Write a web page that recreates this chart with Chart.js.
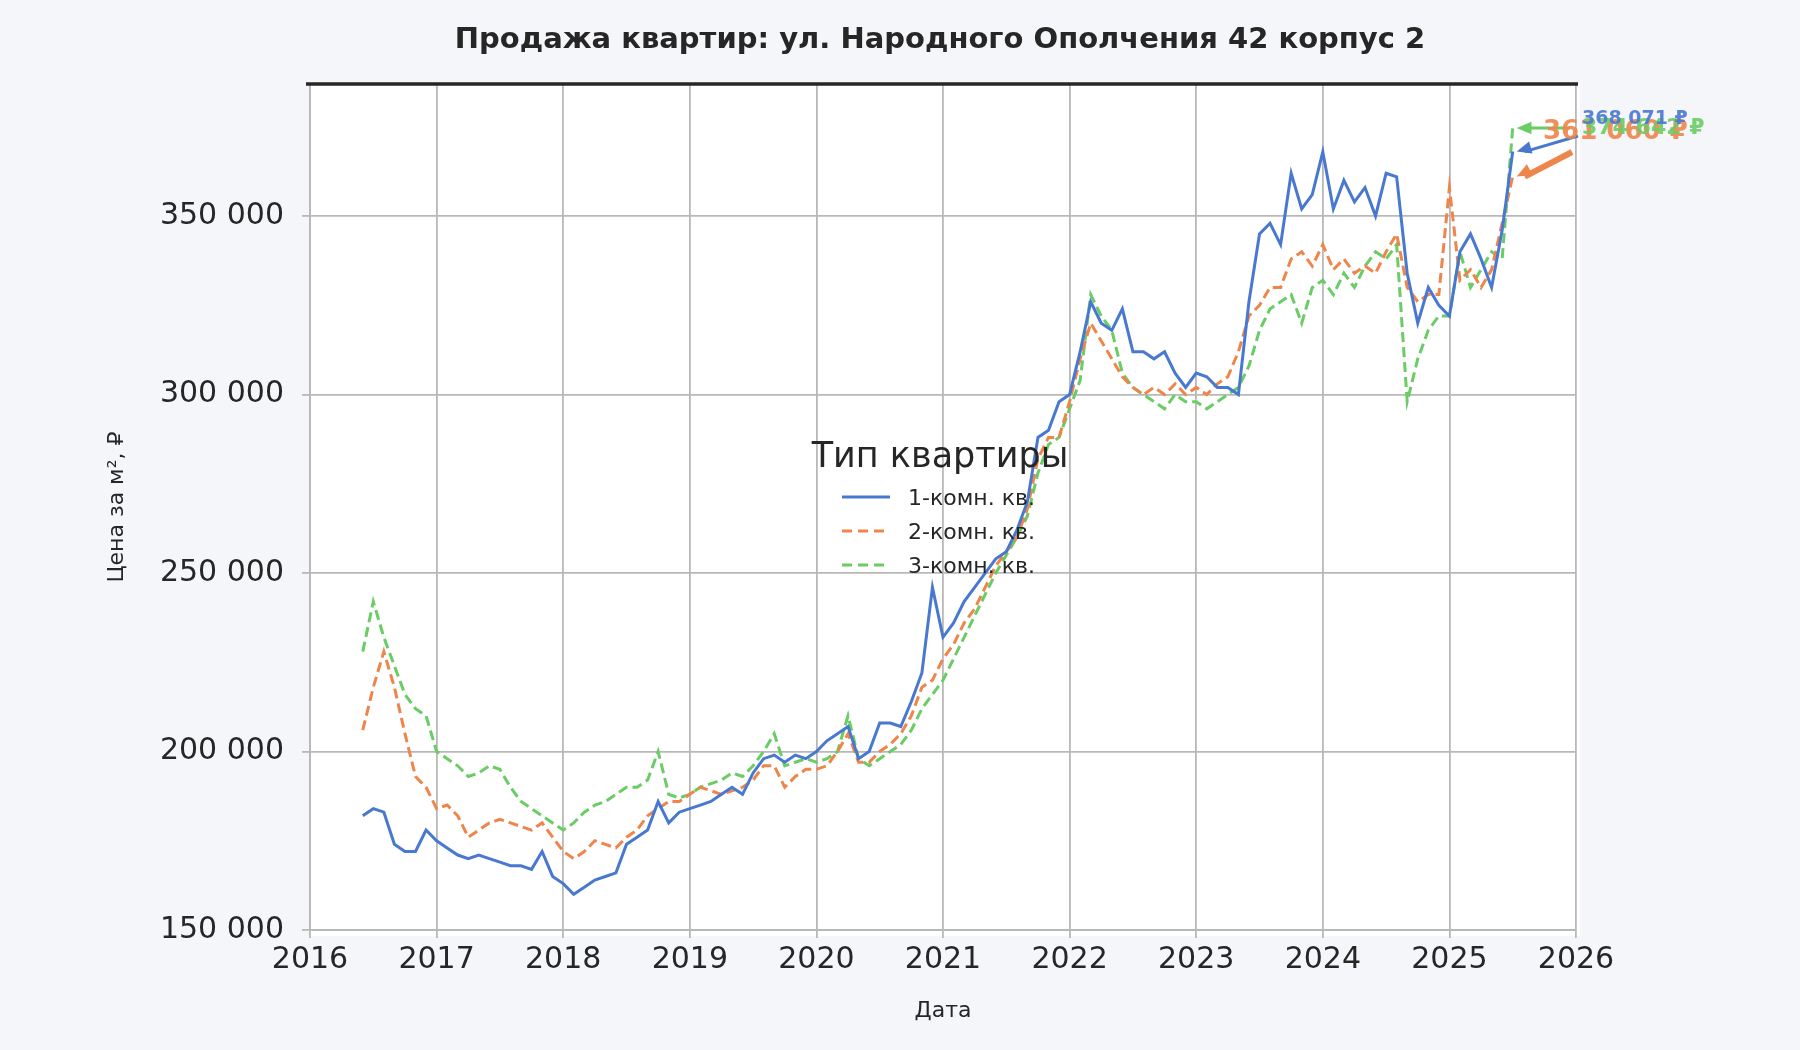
<!DOCTYPE html>
<html><head><meta charset="utf-8">
<script src="https://cdn.jsdelivr.net/npm/chart.js@4"></script>
<style>html,body{margin:0;background:#f5f6fa}#w{width:1800px;height:1050px}</style>
</head><body><div id="w"><canvas id="c"></canvas></div>
<script>
const startYear = 2016, startMonth = 6; // monthly points from June 2016
const seriesNames = ['1-комн. кв.', '2-комн. кв.', '3-комн. кв.'];
const room1 = [182,184,183,174,172,172,178,
175,173,171,170,171,170,169,168,168,167,172,165,
163,160,162,164,165,166,174,176,178,186,180,183,
184,185,186,188,190,188,194,198,199,197,199,198,
200,203,205,207,198,200,208,208,207,214,222,246,
232,236,242,246,250,254,256,262,270,288,290,298,
300,312,326,320,318,324,312,312,310,312,306,302,
306,305,302,302,300,326,345,348,342,362,352,356,
368,352,360,354,358,350,362,361,334,320,330,325,
322,340,345,338,330,346,368.071];
const room2 = [206,218,228,218,205,193,190,
184,185,182,176,178,180,181,180,179,178,180,176,
172,170,172,175,174,173,176,178,182,184,186,186,
188,190,189,188,189,190,192,196,196,190,193,195,
195,196,200,205,197,197,200,202,205,210,218,220,
226,230,236,240,246,252,256,260,268,282,288,288,
298,310,320,315,310,305,302,300,302,300,303,300,
302,300,303,305,312,322,325,330,330,338,340,336,
342,335,338,334,336,334,340,345,330,326,328,328,
358,332,335,330,335,348,361.060];
const room3 = [228,242,232,224,216,212,210,
200,198,196,193,194,196,195,190,186,184,182,180,
178,180,183,185,186,188,190,190,192,200,188,187,
188,190,191,192,194,193,196,200,205,196,197,198,
197,198,200,210,198,196,198,200,202,206,212,216,
220,226,232,238,244,250,255,260,266,278,286,288,
296,304,328,322,318,306,302,300,298,296,300,298,
298,296,298,300,302,308,318,324,326,328,320,330,
332,328,334,330,336,340,338,342,298,310,318,322,
322,340,330,335,340,338,374.642];
const lastLabels = ['368 071 ₽','361 060 ₽','374 642 ₽'];
const yTicks = [150000,200000,250000,300000,350000];
const xTicks = [2016,2017,2018,2019,2020,2021,2022,2023,2024,2025,2026];
const colors = ['#4878d0','#ee854a','#6acc64'];

function pts(arr){return arr.map((v,i)=>({x:startYear+(startMonth-1+i)/12,y:v*1000}));}
const fmt = v => String(Math.round(v)).replace(/\B(?=(\d{3})+(?!\d))/g,' ');

const bgPlugin = {id:'bg',beforeDraw(ch){const {ctx,chartArea:a}=ch;ctx.save();ctx.fillStyle='#f5f6fa';ctx.fillRect(0,0,ch.width,ch.height);ctx.fillStyle='#fff';ctx.fillRect(a.left,a.top,a.right-a.left+4,a.bottom-a.top+6);ctx.restore();},
afterDraw(ch){const {ctx,chartArea:a}=ch;ctx.save();
 ctx.fillStyle='#262626';ctx.font='bold 29px "DejaVu Sans"';ctx.textAlign='center';ctx.fillText('Продажа квартир: ул. Народного Ополчения 42 корпус 2',940,48);
 ctx.strokeStyle='#262626';ctx.lineWidth=3.5;ctx.beginPath();ctx.moveTo(a.left-4,a.top);ctx.lineTo(a.right+2,a.top);ctx.stroke();
 ctx.font='35px "DejaVu Sans"';ctx.fillStyle='#262626';ctx.fillText('Тип квартиры',940,467);
 ctx.font='22px "DejaVu Sans"';ctx.textAlign='left';
 for(let i=0;i<3;i++){const y=497+i*34;ctx.strokeStyle=colors[i];ctx.lineWidth=3;ctx.setLineDash(i?[10,6]:[]);ctx.beginPath();ctx.moveTo(842,y);ctx.lineTo(890,y);ctx.stroke();ctx.setLineDash([]);ctx.fillStyle='#262626';ctx.fillText(seriesNames[i],908,y+8);}
 const xs=ch.scales.x, ys=ch.scales.y;
 [room1,room2,room3].forEach((arr,i)=>{const p=pts(arr);const l=p[p.length-1];const px=xs.getPixelForValue(l.x),py=ys.getPixelForValue(l.y);
  ctx.strokeStyle=colors[i];ctx.fillStyle=colors[i];ctx.lineWidth=i==1?6:3;
  const sx=i==0?1578:(i==1?1572:1570), sy=i==0?136:(i==1?152:128);
  ctx.beginPath();ctx.moveTo(sx,sy);ctx.lineTo(px+12,py);ctx.stroke();
  const ang=Math.atan2(py-sy,px+12-sx);ctx.beginPath();ctx.moveTo(px+4,py);ctx.lineTo(px+4-16*Math.cos(ang-0.4),py-16*Math.sin(ang-0.4));ctx.lineTo(px+4-16*Math.cos(ang+0.4),py-16*Math.sin(ang+0.4));ctx.fill();
 });
 [[1,1543,139,'bold 26px'],[2,1582,134,'bold 22px'],[0,1582,124,'bold 19px']].forEach(([i,x,y,f])=>{ctx.font=f+' "DejaVu Sans"';ctx.fillStyle=colors[i];ctx.globalAlpha=0.9;ctx.fillText(lastLabels[i],x,y);});
 ctx.restore();}};

new Chart(document.getElementById('c'),{type:'line',
 data:{datasets:[room1,room2,room3].map((a,i)=>({label:seriesNames[i],data:pts(a),borderColor:colors[i],borderWidth:3,borderDash:i?[10,5]:[],pointRadius:0,tension:0}))},
 options:{responsive:true,maintainAspectRatio:false,animation:false,
  layout:{padding:{top:84,right:224,bottom:22,left:100}},
  plugins:{legend:{display:false},tooltip:{enabled:false}},
  scales:{
   x:{type:'linear',min:2016,max:2026,afterBuildTicks(s){s.ticks=xTicks.map(v=>({value:v}));},
      ticks:{font:{size:30,family:'DejaVu Sans'},color:'#262626',callback:v=>String(v),maxRotation:0,padding:4},
      grid:{color:'#b8b8b8',lineWidth:1.8,tickLength:8,tickColor:'#b8b8b8'},border:{color:'#b8b8b8'},
      title:{display:true,text:'Дата',font:{size:22,family:'DejaVu Sans'},color:'#262626',padding:{top:4}},
      afterFit(s){s.height=98;}},
   y:{min:150000,max:387000,afterBuildTicks(s){s.ticks=yTicks.map(v=>({value:v}));},
      ticks:{font:{size:30,family:'DejaVu Sans'},color:'#262626',callback:v=>fmt(v),padding:18},
      grid:{color:'#b8b8b8',lineWidth:1.8,tickLength:8,tickColor:'#b8b8b8'},border:{color:'#b8b8b8'},
      title:{display:true,text:'Цена за м², ₽',font:{size:22,family:'DejaVu Sans'},color:'#262626'},
      afterFit(s){s.width=210;}}
  }},
 plugins:[bgPlugin]});
</script></body></html>
